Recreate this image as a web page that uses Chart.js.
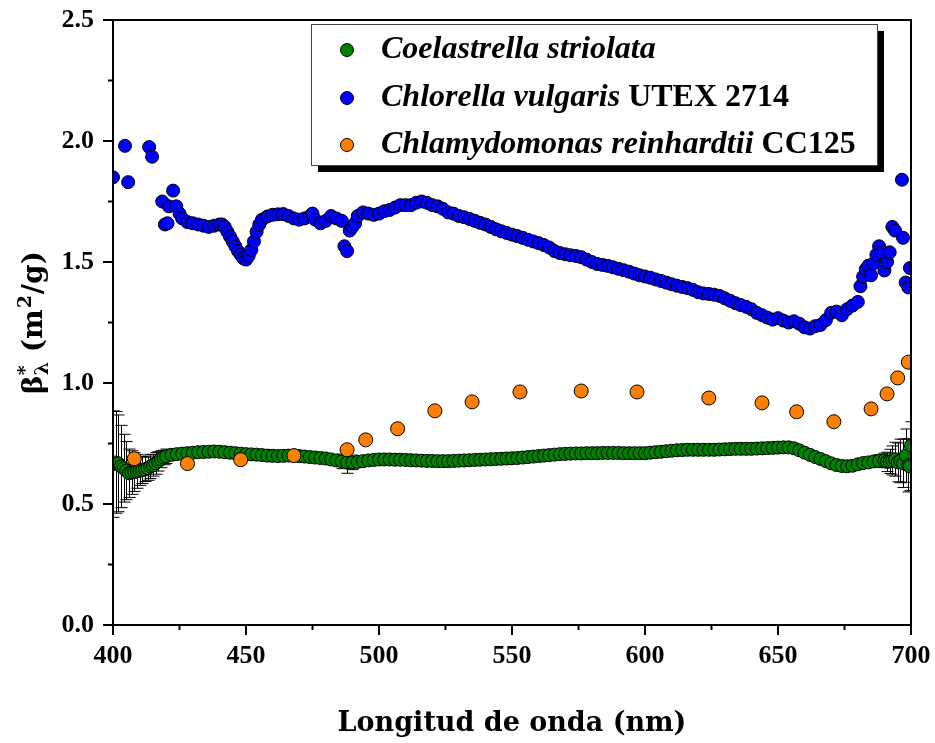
<!DOCTYPE html>
<html>
<head>
<meta charset="utf-8">
<script src="https://cdn.jsdelivr.net/npm/chart.js@4.4.1/dist/chart.umd.min.js"></script>
<style>
  html, body { margin: 0; padding: 0; background: #fff; }
  canvas { display: block; }
</style>
</head>
<body>
<canvas id="grafico" width="935" height="743"></canvas>
<script>
// Coelastrella striolata (longitud de onda, beta*, error)
const verdeX = [
  400, 401, 402, 403, 404, 405, 406, 407, 408, 409,
  410, 411, 412, 413, 414, 415, 416, 417, 418, 419,
  420, 422, 424, 426, 428, 430, 432, 434, 436, 438,
  440, 442, 444, 446, 448, 450, 452, 454, 456, 458,
  460, 462, 464, 466, 468, 470, 472, 474, 476, 478,
  480, 482, 484, 486, 488, 490, 492, 494, 496, 498,
  500, 502, 504, 506, 508, 510, 512, 514, 516, 518,
  520, 522, 524, 526, 528, 530, 532, 534, 536, 538,
  540, 542, 544, 546, 548, 550, 552, 554, 556, 558,
  560, 562, 564, 566, 568, 570, 572, 574, 576, 578,
  580, 582, 584, 586, 588, 590, 592, 594, 596, 598,
  600, 602, 604, 606, 608, 610, 612, 614, 616, 618,
  620, 622, 624, 626, 628, 630, 632, 634, 636, 638,
  640, 642, 644, 646, 648, 650, 652, 654, 656, 658,
  660, 662, 664, 666, 668, 670, 672, 674, 676, 678,
  680, 682, 684, 686, 688, 690, 691, 692, 693, 694,
  695, 696, 697, 698, 699, 699.5, 700
];
const verdeY = [
  0.665, 0.672, 0.668, 0.655, 0.648, 0.638, 0.627, 0.630, 0.632, 0.635,
  0.637, 0.640, 0.643, 0.648, 0.655, 0.660, 0.668, 0.676, 0.685, 0.692,
  0.697, 0.703, 0.706, 0.708, 0.710, 0.712, 0.714, 0.715, 0.716, 0.717,
  0.716, 0.714, 0.712, 0.710, 0.708, 0.706, 0.705, 0.704, 0.702, 0.700,
  0.699, 0.698, 0.699, 0.700, 0.700, 0.698, 0.696, 0.694, 0.692, 0.690,
  0.688, 0.684, 0.680, 0.676, 0.672, 0.672, 0.674, 0.677, 0.680, 0.682,
  0.684, 0.684, 0.684, 0.683, 0.683, 0.682, 0.681, 0.680, 0.679, 0.678,
  0.678, 0.677, 0.677, 0.677, 0.678, 0.679, 0.680, 0.681, 0.682, 0.683,
  0.684, 0.685, 0.686, 0.687, 0.688, 0.689, 0.690, 0.692, 0.694, 0.696,
  0.698, 0.700, 0.702, 0.704, 0.706, 0.707, 0.708, 0.709, 0.709, 0.710,
  0.710, 0.710, 0.711, 0.711, 0.711, 0.711, 0.710, 0.710, 0.710, 0.710,
  0.710, 0.712, 0.714, 0.716, 0.718, 0.720, 0.722, 0.723, 0.724, 0.724,
  0.724, 0.724, 0.724, 0.724, 0.725, 0.726, 0.727, 0.728, 0.728, 0.728,
  0.728, 0.729, 0.730, 0.731, 0.732, 0.733, 0.734, 0.734, 0.730, 0.722,
  0.712, 0.703, 0.694, 0.686, 0.677, 0.668, 0.661, 0.657, 0.656, 0.658,
  0.664, 0.669, 0.672, 0.676, 0.678, 0.680, 0.674, 0.676, 0.680, 0.685,
  0.672, 0.678, 0.668, 0.700, 0.660, 0.656, 0.740
];
const verdeErr = [
  0.22, 0.21, 0.20, 0.17, 0.14, 0.12, 0.10, 0.09, 0.08, 0.07,
  0.06, 0.055, 0.05, 0.05, 0.05, 0.045, 0.045, 0.04, 0.035, 0.03,
  0.03, 0.02, 0.015, 0.01, 0.01, 0.01, 0.01, 0.01, 0.01, 0.01,
  0.01, 0.01, 0.01, 0.01, 0.01, 0.01, 0.01, 0.01, 0.01, 0.01,
  0.01, 0.01, 0.01, 0.01, 0.01, 0.01, 0.01, 0.01, 0.01, 0.01,
  0.01, 0.01, 0.02, 0.03, 0.045, 0.03, 0.02, 0.01, 0.01, 0.01,
  0.01, 0.01, 0.01, 0.01, 0.01, 0.01, 0.01, 0.01, 0.01, 0.01,
  0.01, 0.01, 0.01, 0.01, 0.01, 0.01, 0.01, 0.01, 0.01, 0.01,
  0.01, 0.01, 0.01, 0.01, 0.01, 0.01, 0.01, 0.01, 0.01, 0.01,
  0.01, 0.01, 0.01, 0.01, 0.01, 0.01, 0.01, 0.01, 0.01, 0.01,
  0.01, 0.01, 0.01, 0.01, 0.01, 0.01, 0.01, 0.01, 0.01, 0.01,
  0.01, 0.01, 0.01, 0.01, 0.01, 0.01, 0.01, 0.01, 0.01, 0.01,
  0.01, 0.01, 0.01, 0.01, 0.01, 0.01, 0.01, 0.01, 0.01, 0.01,
  0.01, 0.01, 0.01, 0.01, 0.01, 0.01, 0.01, 0.01, 0.01, 0.01,
  0.01, 0.01, 0.01, 0.01, 0.01, 0.01, 0.01, 0.01, 0.01, 0.01,
  0.01, 0.01, 0.015, 0.02, 0.025, 0.03, 0.04, 0.05, 0.06, 0.07,
  0.08, 0.09, 0.10, 0.11, 0.11, 0.10, 0.10
];

// Chlorella vulgaris UTEX 2714
const azulX = [
  400, 404.5, 405.7, 413.6, 414.7, 418.5, 419.5, 420.5, 421, 422.6,
  423.8, 425, 426, 428, 430, 432, 434, 436, 438, 440,
  441, 442, 443, 444, 445, 446, 447, 448, 449, 450,
  451, 452, 453, 454, 455, 456, 458, 460, 462, 464,
  466, 468, 470, 472, 474, 475, 476, 478, 480, 482,
  484, 486, 487, 488, 489, 490, 491, 492, 494, 496,
  498, 500, 502, 504, 506, 508, 510, 512, 514, 516,
  518, 520, 522, 524, 526, 528, 530, 532, 534, 536,
  538, 540, 542, 544, 546, 548, 550, 552, 554, 556,
  558, 560, 562, 564, 566, 568, 570, 572, 574, 576,
  578, 580, 582, 584, 586, 588, 590, 592, 594, 596,
  598, 600, 602, 604, 606, 608, 610, 612, 614, 616,
  618, 620, 622, 624, 626, 628, 630, 632, 634, 636,
  638, 640, 642, 644, 646, 648, 650, 652, 654, 656,
  658, 660, 662, 664, 666, 668, 670, 672, 674, 676,
  678, 680, 681, 682, 683, 684, 685, 686, 687, 688,
  689, 690, 691, 692, 693, 694, 696.6, 697, 698, 699,
  699.6
];
const azulY = [
  1.85, 1.98, 1.83, 1.975, 1.935, 1.75, 1.655, 1.66, 1.73, 1.795,
  1.73, 1.70, 1.68, 1.665, 1.66, 1.655, 1.65, 1.645, 1.65, 1.655,
  1.655, 1.645, 1.625, 1.605, 1.585, 1.565, 1.545, 1.53, 1.515, 1.51,
  1.525, 1.55, 1.585, 1.625, 1.655, 1.675, 1.688, 1.695, 1.697, 1.698,
  1.69, 1.68, 1.675, 1.68, 1.69, 1.70, 1.675, 1.66, 1.67, 1.69,
  1.68, 1.67, 1.565, 1.545, 1.63, 1.645, 1.66, 1.69, 1.705, 1.70,
  1.695, 1.70, 1.71, 1.715, 1.725, 1.735, 1.735, 1.735, 1.745, 1.75,
  1.745, 1.735, 1.73, 1.72, 1.705, 1.70, 1.69, 1.685, 1.678, 1.67,
  1.662, 1.655, 1.645, 1.635, 1.627, 1.62, 1.613, 1.607, 1.60, 1.592,
  1.585, 1.578, 1.57, 1.56, 1.545, 1.537, 1.532, 1.528, 1.525, 1.52,
  1.51, 1.50, 1.492, 1.488, 1.484, 1.478, 1.472, 1.466, 1.46, 1.452,
  1.445, 1.44, 1.435, 1.428, 1.422, 1.415, 1.408, 1.402, 1.397, 1.392,
  1.385, 1.375, 1.37, 1.368, 1.365, 1.36, 1.35, 1.34, 1.33, 1.322,
  1.315, 1.305, 1.29, 1.28, 1.27, 1.262, 1.268, 1.258, 1.25, 1.255,
  1.245, 1.23, 1.225, 1.235, 1.24, 1.26, 1.29, 1.295, 1.28, 1.305,
  1.32, 1.335, 1.40, 1.44, 1.47, 1.485, 1.445, 1.495, 1.53, 1.565,
  1.54, 1.465, 1.50, 1.54, 1.645, 1.63, 1.84, 1.60, 1.415, 1.395,
  1.475
];

// Chlamydomonas reinhardtii CC125
const naranjaX = [408, 428, 448, 468, 488, 495, 507, 521, 535, 553, 576, 597, 624, 644, 657, 671, 685, 691, 695, 699];
const naranjaY = [0.687, 0.667, 0.683, 0.700, 0.724, 0.765, 0.811, 0.885, 0.922, 0.963, 0.967, 0.963, 0.938, 0.918, 0.881, 0.840, 0.893, 0.955, 1.021, 1.086];

// marcas menores de los ejes
const menoresX = [425, 475, 525, 575, 625, 675];
const menoresY = [0.25, 0.75, 1.25, 1.75, 2.25];

const series = [
  { nombre: 'Coelastrella striolata', cepa: '', color: '#008000' },
  { nombre: 'Chlorella vulgaris', cepa: ' UTEX 2714', color: '#0000ff' },
  { nombre: 'Chlamydomonas reinhardtii', cepa: ' CC125', color: '#ff8000' }
];

const aPuntos = (xs, ys) => xs.map((x, i) => ({ x: x, y: ys[i] }));

const SERIF = '"Liberation Serif", serif';
const TITULO = '"DejaVu Serif", serif';

// barras de error de la serie verde
const barrasError = {
  id: 'barrasError',
  beforeDatasetsDraw(chart) {
    const { ctx, chartArea: a, scales: { x, y } } = chart;
    ctx.save();
    ctx.beginPath();
    ctx.rect(a.left, a.top, a.right - a.left, a.bottom - a.top);
    ctx.clip();
    ctx.strokeStyle = '#000';
    ctx.lineWidth = 1;
    ctx.beginPath();
    verdeX.forEach((v, i) => {
      const px = Math.round(x.getPixelForValue(v)) + 0.5;
      const y1 = y.getPixelForValue(verdeY[i] + verdeErr[i]);
      const y2 = y.getPixelForValue(verdeY[i] - verdeErr[i]);
      ctx.moveTo(px, y1); ctx.lineTo(px, y2);
      ctx.moveTo(px - 6, y1); ctx.lineTo(px + 6, y1);
      ctx.moveTo(px - 6, y2); ctx.lineTo(px + 6, y2);
    });
    ctx.stroke();
    ctx.restore();
  }
};

// marco, marcas, titulos y leyenda
const decoracion = {
  id: 'decoracion',
  afterDraw(chart) {
    const { ctx, chartArea: a, scales: { x, y } } = chart;
    ctx.save();
    ctx.strokeStyle = '#000';
    ctx.lineWidth = 2;
    ctx.strokeRect(a.left, a.top, a.right - a.left, a.bottom - a.top);

    ctx.beginPath();
    x.ticks.forEach(t => {
      const px = x.getPixelForValue(t.value);
      ctx.moveTo(px, a.bottom); ctx.lineTo(px, a.bottom + 10);
    });
    menoresX.forEach(v => {
      const px = x.getPixelForValue(v);
      ctx.moveTo(px, a.bottom); ctx.lineTo(px, a.bottom + 5);
    });
    y.ticks.forEach(t => {
      const py = y.getPixelForValue(t.value);
      ctx.moveTo(a.left, py); ctx.lineTo(a.left - 10, py);
    });
    menoresY.forEach(v => {
      const py = y.getPixelForValue(v);
      ctx.moveTo(a.left, py); ctx.lineTo(a.left - 5, py);
    });
    ctx.stroke();

    // titulo eje x
    ctx.fillStyle = '#000';
    ctx.font = 'bold 27px ' + TITULO;
    ctx.textAlign = 'center';
    ctx.textBaseline = 'alphabetic';
    ctx.fillText('Longitud de onda (nm)', (a.left + a.right) / 2, 731);

    // titulo eje y
    ctx.save();
    ctx.translate(42, (a.top + a.bottom) / 2);
    ctx.rotate(-Math.PI / 2);
    ctx.textAlign = 'left';
    const grande = 'bold 28px ' + TITULO;
    const chica = 'bold 19px ' + TITULO;
    ctx.font = grande; const wB = ctx.measureText('\u03b2').width;
    ctx.font = chica; const wS = Math.max(ctx.measureText('*').width, ctx.measureText('\u03bb').width);
    ctx.font = grande; const w1 = ctx.measureText(' (m').width;
    ctx.font = chica; const w2 = ctx.measureText('2').width;
    ctx.font = grande; const w3 = ctx.measureText('/g)').width;
    let cx = -(wB + wS + w1 + w2 + w3 + 2) / 2;
    ctx.font = grande; ctx.fillText('\u03b2', cx, 0); cx += wB;
    ctx.font = chica; ctx.fillText('*', cx, -11); ctx.fillText('\u03bb', cx, 6); cx += wS;
    ctx.font = grande; ctx.fillText(' (m', cx, 0); cx += w1;
    ctx.font = chica; ctx.fillText('2', cx + 1, -11); cx += w2 + 2;
    ctx.font = grande; ctx.fillText('/g)', cx, 0);
    ctx.restore();

    // leyenda con sombra
    const lx = 311, ly = 24, lw = 566, lh = 141;
    ctx.fillStyle = '#000';
    ctx.fillRect(lx + 7, ly + 7, lw, lh);
    ctx.fillStyle = '#fff';
    ctx.fillRect(lx, ly, lw, lh);
    ctx.strokeStyle = '#444';
    ctx.lineWidth = 1;
    ctx.strokeRect(lx + 0.5, ly + 0.5, lw, lh);
    const filas = [50, 98, 145];
    ctx.textAlign = 'left';
    ctx.textBaseline = 'middle';
    series.forEach((s, i) => {
      ctx.beginPath();
      ctx.arc(347, filas[i], 6.5, 0, Math.PI * 2);
      ctx.fillStyle = s.color;
      ctx.fill();
      ctx.strokeStyle = '#000';
      ctx.stroke();
      ctx.fillStyle = '#000';
      ctx.font = 'italic bold 32px ' + SERIF;
      ctx.fillText(s.nombre, 381, filas[i]);
      const w = ctx.measureText(s.nombre).width;
      ctx.font = 'bold 32px ' + SERIF;
      ctx.fillText(s.cepa, 381 + w, filas[i]);
    });
    ctx.restore();
  }
};

const estiloPunto = (color, r) => ({
  backgroundColor: color,
  borderColor: '#000',
  borderWidth: 1,
  pointRadius: r,
  pointHoverRadius: r,
  showLine: false,
  clip: 0
});

new Chart(document.getElementById('grafico'), {
  type: 'scatter',
  data: {
    datasets: [
      Object.assign({ label: series[0].nombre, data: aPuntos(verdeX, verdeY), order: 3 }, estiloPunto('#008000', 6.5)),
      Object.assign({ label: series[1].nombre, data: aPuntos(azulX, azulY), order: 2 }, estiloPunto('#0000ff', 6.5)),
      Object.assign({ label: series[2].nombre, data: aPuntos(naranjaX, naranjaY), order: 1 }, estiloPunto('#ff8000', 7))
    ]
  },
  options: {
    responsive: false,
    animation: false,
    devicePixelRatio: 1,
    events: [],
    layout: { padding: { top: 20, right: 24, left: 0, bottom: 0 } },
    plugins: {
      legend: { display: false },
      tooltip: { enabled: false }
    },
    scales: {
      x: {
        type: 'linear',
        min: 400,
        max: 700,
        grid: { display: false, drawTicks: false },
        border: { display: false },
        ticks: {
          stepSize: 50,
          padding: 16,
          color: '#000',
          font: { family: SERIF, size: 26, weight: 'bold' }
        },
        afterFit: s => { s.height = 118; s.paddingLeft = 0; s.paddingRight = 0; }
      },
      y: {
        min: 0,
        max: 2.5,
        grid: { display: false, drawTicks: false },
        border: { display: false },
        ticks: {
          stepSize: 0.5,
          padding: 19,
          color: '#000',
          font: { family: SERIF, size: 26, weight: 'bold' },
          callback: v => v.toFixed(1)
        },
        afterFit: s => { s.width = 113; s.paddingTop = 0; s.paddingBottom = 0; }
      }
    }
  },
  plugins: [barrasError, decoracion]
});
</script>
</body>
</html>
